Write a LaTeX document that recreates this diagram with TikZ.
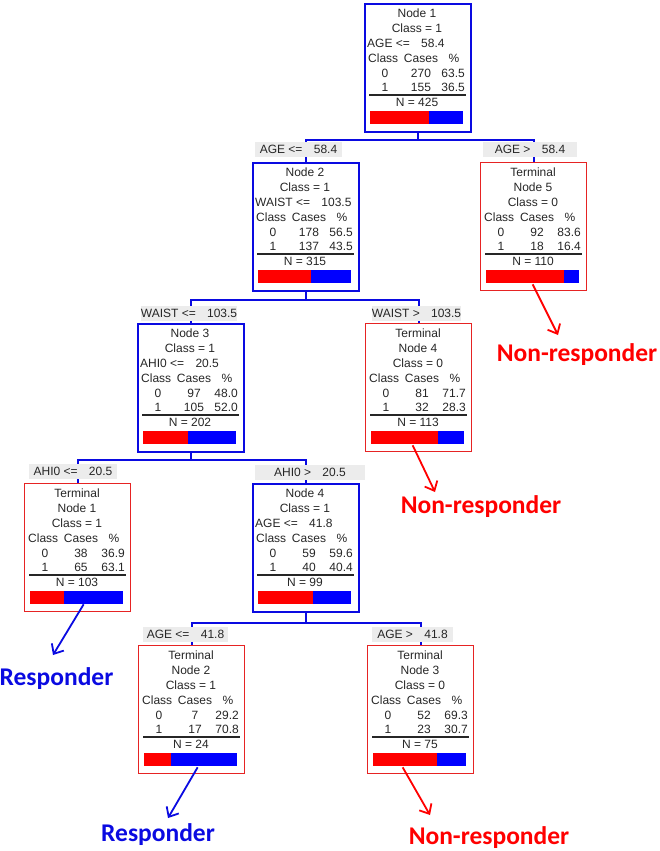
\documentclass[tikz,border=0pt]{standalone}
\usepackage{fontspec}
\setmainfont{Liberation Sans}
\newfontfamily\calloutfont{Carlito}
\usetikzlibrary{arrows.meta,calc}

\definecolor{treeblue}{RGB}{10,10,225}
\definecolor{leafred}{RGB}{230,35,35}
\definecolor{cutgray}{RGB}{236,236,236}

\tikzset{
  boxtext/.style={inner sep=0pt, font=\fontsize{12}{14}\selectfont, text=black!85},
  splitbox/.style={draw=treeblue, line width=2pt, minimum width=106pt, minimum height=128pt, anchor=north west, inner sep=0pt},
  leafbox/.style={draw=leafred, line width=1.3pt, minimum width=106pt, minimum height=128pt, anchor=north west, inner sep=0pt},
  splitline/.style={anchor=west, xshift=-50pt},
  leafline/.style={},
  cut/.style={fill=cutgray, minimum height=15pt, inner sep=0pt, font=\fontsize{12}{14}\selectfont, text=black!85},
  tree/.style={draw=treeblue, line width=2pt},
  resparrow/.style={line width=1.8pt, -{Straight Barb[length=8pt,width=14pt]}},
  resptext/.style={font=\calloutfont\bfseries\fontsize{25.5}{30}\selectfont, anchor=base, inner sep=0pt},
}

% one tree box: name, top left, split/leaf, three lines, rows, red share
\newcommand{\treebox}[8]{%
  \begin{scope}[shift={#2}]
    \node[#3box] (#1) at (0,0) {};
    \node[boxtext] (#1-a) at (53,10) {#4};
    \node[boxtext] (#1-b) at (53,25) {#5};
    \node[boxtext, #3line] (#1-c) at (53,40) {#6};
    \node[boxtext, anchor=west] (#1-h1) at (4,55) {Class};
    \node[boxtext] (#1-h2) at (57,55) {Cases};
    \node[boxtext] (#1-h3) at (90,55) {\%};
    \foreach \cz/\pz/\co/\po/\tot in {#7} {
      \node[boxtext] (#1-k0) at (21,70) {0};
      \node[boxtext] (#1-c0) at (57,70) {\cz};
      \node[boxtext, anchor=east] (#1-p0) at (101,70) {\pz};
      \node[boxtext] (#1-k1) at (21,84) {1};
      \node[boxtext] (#1-c1) at (57,84) {\co};
      \node[boxtext, anchor=east] (#1-p1) at (101,84) {\po};
      \node[boxtext] (#1-n) at (53,99) {N = \tot};
    }
    \draw[line width=1.4pt, black!85] (5,92) -- (102,92);
    \fill[red] (6,108) rectangle ({6+93*#8},121);
    \fill[blue] ({6+93*#8},108) rectangle (99,121);
  \end{scope}
}

\begin{document}
\begin{tikzpicture}[x=1pt, y=-1pt]
  \useasboundingbox (0,0) rectangle (660,851);

  % boxes
  \treebox{n1}{(364,3)}{split}{Node 1}{Class = 1}{AGE <= \hspace{8pt}58.4}{270/63.5/155/36.5/425}{0.635}
  \treebox{n2}{(252,162)}{split}{Node 2}{Class = 1}{WAIST <= \hspace{8pt}103.5}{178/56.5/137/43.5/315}{0.565}
  \treebox{t5}{(480,162)}{leaf}{Terminal}{Node 5}{Class = 0}{92/83.6/18/16.4/110}{0.836}
  \treebox{n3}{(137,323)}{split}{Node 3}{Class = 1}{AHI0 <= \hspace{8pt}20.5}{97/48.0/105/52.0/202}{0.48}
  \treebox{t4}{(365,323)}{leaf}{Terminal}{Node 4}{Class = 0}{81/71.7/32/28.3/113}{0.717}
  \treebox{t1}{(24,483)}{leaf}{Terminal}{Node 1}{Class = 1}{38/36.9/65/63.1/103}{0.369}
  \treebox{n4}{(252,483)}{split}{Node 4}{Class = 1}{AGE <= \hspace{8pt}41.8}{59/59.6/40/40.4/99}{0.596}
  \treebox{t2}{(138,645)}{leaf}{Terminal}{Node 2}{Class = 1}{7/29.2/17/70.8/24}{0.292}
  \treebox{t3}{(367,645)}{leaf}{Terminal}{Node 3}{Class = 0}{52/69.3/23/30.7/75}{0.693}

  % branches
  \draw[tree] (n1.south) -- ++(0,7) -| (n2.north);
  \draw[tree] (n1.south) -- ++(0,7) -| (t5.north);
  \draw[tree] (n2.south) -- ++(0,8) -| (n3.north);
  \draw[tree] (n2.south) -- ++(0,8) -| (t4.north);
  \draw[tree] (n3.south) -- ++(0,7) -| (t1.north);
  \draw[tree] (n3.south) -- ++(0,7) -| (n4.north);
  \draw[tree] (n4.south) -- ++(0,10) -| (t2.north);
  \draw[tree] (n4.south) -- ++(0,10) -| (t3.north);

  % split labels
  \node[cut, minimum width=87pt] (c1) at (298.5,149.5) {AGE <= \hspace{8pt}58.4};
  \node[cut, minimum width=94pt] (c2) at (530,149.5) {AGE > \hspace{8pt}58.4};
  \node[cut, minimum width=92pt] (c3) at (189,313.5) {WAIST <= \hspace{8pt}103.5};
  \node[cut, minimum width=87pt] (c4) at (416.5,313.5) {WAIST > \hspace{8pt}103.5};
  \node[cut, minimum width=88pt] (c5) at (73,471.5) {AHI0 <= \hspace{8pt}20.5};
  \node[cut, minimum width=110pt] (c6) at (310,472) {AHI0 > \hspace{8pt}20.5};
  \node[cut, minimum width=85pt] (c7) at (185.5,634.5) {AGE <= \hspace{8pt}41.8};
  \node[cut, minimum width=81pt] (c8) at (412.5,634.5) {AGE > \hspace{8pt}41.8};

  % responder callouts
  \node[resptext, red] (nr5) at (577,361) {Non-responder};
  \node[resptext, red] (nr4) at (481,513) {Non-responder};
  \node[resptext, treeblue] (r1) at (56.5,685) {Responder};
  \node[resptext, treeblue] (r2) at (158,841) {Responder};
  \node[resptext, red] (nr3) at (489,844) {Non-responder};
  \coordinate (e5) at (558,335);
  \coordinate (e4) at (435,492);
  \coordinate (e1) at (53,655);
  \coordinate (e2) at (168,818);
  \coordinate (e3) at (430,815);
  \draw[resparrow, red] ($(t5.south)+(-1,-7)$) -- (e5);
  \draw[resparrow, red] ($(t4.south)+(-6,-7)$) -- (e4);
  \draw[resparrow, treeblue] ($(t1.south)+(6,-8)$) -- (e1);
  \draw[resparrow, treeblue] ($(t2.south)+(6,-7)$) -- (e2);
  \draw[resparrow, red] ($(t3.south)+(-18,-7)$) -- (e3);
\end{tikzpicture}
\end{document}
